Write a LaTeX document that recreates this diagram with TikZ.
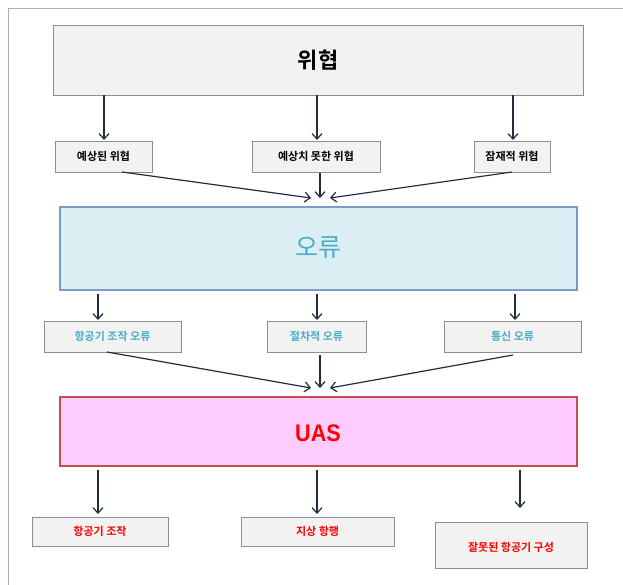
\documentclass[tikz,border=0pt]{standalone}
\usepackage{fontspec}
\setmainfont{Liberation Sans}
\newfontfamily\kr{Noto Sans CJK KR}
\newfontfamily\krb{Noto Sans CJK KR Bold}
\usetikzlibrary{arrows.meta}
\definecolor{framec}{HTML}{A0B2C0}
\definecolor{boxline}{HTML}{8E8E8E}
\definecolor{boxfill}{HTML}{F2F2F2}
\definecolor{bluefill}{HTML}{DBEEF4}
\definecolor{blueline}{HTML}{7C9BC4}
\definecolor{teal}{HTML}{4BACC6}
\definecolor{pinkfill}{HTML}{FFCCFF}
\definecolor{redline}{HTML}{C0504D}
\definecolor{arrowc}{HTML}{1F2D3D}
\tikzset{
  x=1pt,y=-1pt,
  bigbox/.style={draw=boxline,fill=boxfill,line width=0.9pt},
  smallbox/.style={draw=boxline,fill=boxfill,line width=0.9pt},
  conn/.style={draw=arrowc,line width=1.2pt,-{Straight Barb[length=5.5pt,width=10pt,line width=1.2pt]}},
  lbl/.style={font=\krb\fontsize{11}{13}\selectfont},
}
\begin{document}
\begin{tikzpicture}
\useasboundingbox (0,0) rectangle (623,585);
% frame
\draw[framec,line width=0.8pt] (623,8) -- (8,8) -- (8,585);
% level 1
\path[bigbox] (53,25) rectangle (583,95);
\node[font=\krb\fontsize{22}{26}\selectfont] (threat) at (318,60) {위협};
\coordinate (tb1) at (104,95); \coordinate (tb2) at (317,95); \coordinate (tb3) at (513,95);
\path[smallbox] (55,141) rectangle (152,172);
\node[lbl] (a1) at (103.5,156.5) {예상된 위협};
\path[smallbox] (252,141) rectangle (380,172);
\node[lbl] (a2) at (316,156.5) {예상치 못한 위협};
\path[smallbox] (474,141) rectangle (550,172);
\node[lbl] (a3) at (512,156.5) {잠재적 위협};
\coordinate (a1t) at (104,140); \coordinate (a2t) at (317,140); \coordinate (a3t) at (513,140);
\draw[conn] (tb1) -- (a1t);
\draw[conn] (tb2) -- (a2t);
\draw[conn] (tb3) -- (a3t);
% level 2
\path[draw=blueline,fill=bluefill,line width=1.2pt] (60,207) rectangle (577,290);
\node[font=\kr\fontsize{25}{30}\selectfont,text=teal] (err) at (318,248) {오류};
\coordinate (a1b) at (122,172); \coordinate (a2b) at (320,173); \coordinate (a3b) at (512,172);
\coordinate (e1) at (311,198); \coordinate (e2) at (320,198); \coordinate (e3) at (330,198);
\draw[conn] (a1b) -- (e1);
\draw[conn] (a2b) -- (e2);
\draw[conn] (a3b) -- (e3);
\coordinate (eb1) at (98,294); \coordinate (eb2) at (317,294); \coordinate (eb3) at (515,294);
\path[smallbox] (44,321) rectangle (181,352);
\node[lbl,text=teal] (b1) at (112.5,336.5) {항공기 조작 오류};
\path[smallbox] (267,321) rectangle (366,352);
\node[lbl,text=teal] (b2) at (316.5,336.5) {절차적 오류};
\path[smallbox] (444,321) rectangle (581,352);
\node[lbl,text=teal] (b3) at (512.5,336.5) {통신 오류};
\coordinate (b1t) at (98,320); \coordinate (b2t) at (317,320); \coordinate (b3t) at (515,320);
\draw[conn] (eb1) -- (b1t);
\draw[conn] (eb2) -- (b2t);
\draw[conn] (eb3) -- (b3t);
% level 3
\path[draw=redline,fill=pinkfill,line width=1.2pt] (60,397) rectangle (577,466);
\node[font=\bfseries\fontsize{24}{28}\selectfont,text=red,xscale=0.9] (uas) at (318,433) {UAS};
\coordinate (b1b) at (107,352); \coordinate (b2b) at (320,355); \coordinate (b3b) at (513,355);
\coordinate (u1) at (311,388); \coordinate (u2) at (320,388); \coordinate (u3) at (330,388);
\draw[conn] (b1b) -- (u1);
\draw[conn] (b2b) -- (u2);
\draw[conn] (b3b) -- (u3);
\coordinate (ub1) at (98,470); \coordinate (ub2) at (317,470); \coordinate (ub3) at (520,470);
\path[smallbox] (32,517) rectangle (168,546);
\node[lbl,text=red] (c1) at (100,531.5) {항공기 조작};
\path[smallbox] (241,517) rectangle (394,546);
\node[lbl,text=red] (c2) at (317.5,531.5) {지상 항행};
\path[smallbox] (435,522) rectangle (587,568);
\node[lbl,text=red] (c3) at (511,547) {잘못된 항공기 구성};
\coordinate (c1t) at (98,514); \coordinate (c2t) at (317,514); \coordinate (c3t) at (520,508);
\draw[conn] (ub1) -- (c1t);
\draw[conn] (ub2) -- (c2t);
\draw[conn] (ub3) -- (c3t);
\end{tikzpicture}
\end{document}
